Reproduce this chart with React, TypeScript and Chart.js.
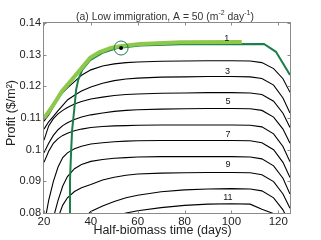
import React, { useEffect, useRef } from "react";
import { Chart, registerables } from "chart.js";

Chart.register(...registerables);

// Shared x grid (half-biomass time, days) for the black contour lines
const X_GRID = [20, 22, 24, 26, 28, 30, 33, 36, 40, 45, 50, 55, 60, 70, 80, 90, 100, 108, 113, 118, 122, 125];

// Contour levels 2..11 (profit, $/m2)
const LEVEL_2 = [0.1090, 0.1110, 0.1135, 0.1160, 0.1180, 0.1195, 0.1215, 0.1235, 0.1252, 0.1264, 0.1271, 0.1275, 0.1277, 0.1279, 0.1280, 0.1281, 0.1281, 0.1280, 0.1275, 0.1256, 0.1224, 0.1181];
const LEVEL_3 = [0.1065, 0.1088, 0.1105, 0.1123, 0.1140, 0.1157, 0.1172, 0.1185, 0.1198, 0.1210, 0.1218, 0.1223, 0.1226, 0.1229, 0.1230, 0.1231, 0.1231, 0.1230, 0.1225, 0.1204, 0.1163, 0.1116];
const LEVEL_4 = [0.1030, 0.1075, 0.1098, 0.1113, 0.1124, 0.1133, 0.1144, 0.1152, 0.1160, 0.1166, 0.1171, 0.1174, 0.1176, 0.1178, 0.1179, 0.1180, 0.1180, 0.1179, 0.1174, 0.1153, 0.1115, 0.1070];
const LEVEL_5 = [0.0990, 0.1020, 0.1045, 0.1063, 0.1076, 0.1085, 0.1095, 0.1103, 0.1110, 0.1116, 0.1121, 0.1124, 0.1126, 0.1128, 0.1129, 0.1130, 0.1130, 0.1129, 0.1124, 0.1103, 0.1065, 0.1020];
const LEVEL_6 = [0.0960, 0.0995, 0.1020, 0.1035, 0.1045, 0.1052, 0.1060, 0.1065, 0.1070, 0.1073, 0.1075, 0.1076, 0.1077, 0.1078, 0.1078, 0.1078, 0.1078, 0.1077, 0.1072, 0.1050, 0.1010, 0.0962];
const LEVEL_7 = [0.0760, 0.0840, 0.0900, 0.0945, 0.0975, 0.0990, 0.1003, 0.1011, 0.1018, 0.1022, 0.1025, 0.1027, 0.1028, 0.1029, 0.1029, 0.1029, 0.1029, 0.1028, 0.1022, 0.1000, 0.0960, 0.0912];
const LEVEL_8 = [0.0700, 0.0740, 0.0785, 0.0840, 0.0885, 0.0915, 0.0940, 0.0953, 0.0963, 0.0969, 0.0973, 0.0975, 0.0977, 0.0978, 0.0978, 0.0978, 0.0978, 0.0977, 0.0971, 0.0949, 0.0910, 0.0860];
const LEVEL_9 = [0.0600, 0.0660, 0.0720, 0.0785, 0.0825, 0.0848, 0.0868, 0.0880, 0.0890, 0.0904, 0.0913, 0.0919, 0.0923, 0.0926, 0.0927, 0.0928, 0.0928, 0.0927, 0.0921, 0.0899, 0.0860, 0.0815];
const LEVEL_10 = [0.0500, 0.0550, 0.0600, 0.0640, 0.0680, 0.0710, 0.0750, 0.0775, 0.0805, 0.0822, 0.0836, 0.0848, 0.0856, 0.0867, 0.0873, 0.0876, 0.0877, 0.0876, 0.0870, 0.0848, 0.0810, 0.0765];
const LEVEL_11 = [0.0400, 0.0450, 0.0500, 0.0550, 0.0600, 0.0640, 0.0680, 0.0710, 0.0740, 0.0770, 0.0788, 0.0800, 0.0807, 0.0817, 0.0824, 0.0828, 0.0829, 0.0828, 0.0812, 0.0798, 0.0780, 0.0750];

// Light green thick path
const LIGHT_X = [20, 22.6, 25.1, 27.7, 31.1, 35.4, 39.7, 44, 48.3, 52.6, 61.1, 78.3, 104.4];
const LIGHT_Y = [0.1100, 0.1126, 0.1154, 0.1185, 0.1214, 0.1252, 0.1290, 0.1309, 0.1321, 0.1327, 0.1334, 0.1339, 0.1340];

// Dark green line (contour 1 / boundary)
const DARK_X = [31.1, 31.1, 31.6, 32.0, 32.9, 33.7, 34.6, 36.3, 39.7, 45.3, 51.3, 61.1, 78.3, 113.9, 119, 125];
const DARK_Y = [0.0800, 0.0905, 0.0999, 0.1062, 0.1126, 0.1189, 0.1220, 0.1252, 0.1283, 0.1307, 0.1321, 0.1329, 0.1333, 0.1334, 0.1309, 0.1236];

// Optimum marker
const OPT_X = [52.9];
const OPT_Y = [0.1321];

// Contour labels
const LABEL_TEXT = ["1", "3", "5", "7", "9", "11"];
const LABEL_X = [98, 98.3, 98.5, 98.5, 98.5, 98.5];
const LABEL_Y = [0.1351, 0.1246, 0.1152, 0.1049, 0.0952, 0.0849];

// Ticks
const X_TICKS = [20, 40, 60, 80, 100, 120];
const Y_TICKS = [0.08, 0.09, 0.1, 0.11, 0.12, 0.13, 0.14];
const Y_TICK_LABELS = ["0.08", "0.09", "0.1", "0.11", "0.12", "0.13", "0.14"];

const FONT = "'Liberation Sans', Arial, Helvetica, sans-serif";
const DARK_GREEN = "#1b7f4a";
const LIGHT_GREEN = "#8cc84a";

const decor = {
  id: "decor",
  afterDatasetsDraw(chart: any) {
    const { ctx, chartArea: a, scales } = chart;
    const xs = scales.x;
    const ys = scales.y;
    ctx.save();
    // contour labels
    ctx.font = `9px ${FONT}`;
    ctx.fillStyle = "#111";
    ctx.textAlign = "center";
    ctx.textBaseline = "middle";
    LABEL_TEXT.forEach((t, i) => {
      ctx.fillText(t, xs.getPixelForValue(LABEL_X[i]), ys.getPixelForValue(LABEL_Y[i]));
    });
    // axes box
    const L = Math.round(a.left) - 0.5;
    const R = Math.round(a.right) + 0.5;
    const T = Math.round(a.top) - 0.5;
    const B = Math.round(a.bottom) + 0.5;
    ctx.strokeStyle = "#8a8a8a";
    ctx.lineWidth = 1;
    ctx.strokeRect(L, T, R - L, B - T);
    // inward ticks on all sides
    ctx.beginPath();
    X_TICKS.forEach((v) => {
      const px = Math.round(xs.getPixelForValue(v)) + 0.5;
      ctx.moveTo(px, B);
      ctx.lineTo(px, B - 3);
      ctx.moveTo(px, T);
      ctx.lineTo(px, T + 3);
    });
    Y_TICKS.forEach((v) => {
      const py = Math.round(ys.getPixelForValue(v)) + 0.5;
      ctx.moveTo(L, py);
      ctx.lineTo(L + 3, py);
      ctx.moveTo(R, py);
      ctx.lineTo(R - 3, py);
    });
    ctx.stroke();

    // title with superscripts
    const big = `10.4px ${FONT}`;
    const small = `7px ${FONT}`;
    const parts: [string, boolean][] = [
      ["(a) Low immigration, A = 50 (m", false],
      ["-2", true],
      [" day", false],
      ["-1", true],
      [")", false],
    ];
    let total = 0;
    parts.forEach(([s, sup]) => {
      ctx.font = sup ? small : big;
      total += ctx.measureText(s).width;
    });
    let cx = 165 - total / 2;
    ctx.fillStyle = "#333";
    ctx.textAlign = "left";
    ctx.textBaseline = "alphabetic";
    parts.forEach(([s, sup]) => {
      ctx.font = sup ? small : big;
      ctx.fillText(s, cx, sup ? 15 : 19.5);
      cx += ctx.measureText(s).width;
    });

    // axis titles
    ctx.fillStyle = "#222";
    ctx.font = `12.5px ${FONT}`;
    ctx.textAlign = "center";
    ctx.textBaseline = "middle";
    ctx.fillText("Half-biomass time (days)", 162.5, 231);
    ctx.save();
    ctx.translate(12, 113);
    ctx.rotate(-Math.PI / 2);
    ctx.fillText("Profit ($/m²)", 0, 0);
    ctx.restore();
    ctx.restore();
  },
};

export default function App() {
  const ref = useRef<HTMLCanvasElement | null>(null);

  useEffect(() => {
    document.body.style.margin = "0";
    const canvas = ref.current;
    if (!canvas) return;
    const contours = [LEVEL_2, LEVEL_3, LEVEL_4, LEVEL_5, LEVEL_6, LEVEL_7, LEVEL_8, LEVEL_9, LEVEL_10, LEVEL_11];
    const datasets: any[] = [];
    datasets.push({
      data: OPT_X.map((x, i) => ({ x, y: OPT_Y[i] })),
      showLine: false,
      pointRadius: 2,
      pointBackgroundColor: "#000",
      pointBorderColor: "#000",
      pointBorderWidth: 0,
      order: -2,
    });
    datasets.push({
      data: OPT_X.map((x, i) => ({ x, y: OPT_Y[i] })),
      showLine: false,
      pointRadius: 7,
      pointBackgroundColor: "rgba(0,0,0,0)",
      pointBorderColor: DARK_GREEN,
      pointBorderWidth: 1,
      order: -1,
    });
    datasets.push({
      data: LIGHT_X.map((x, i) => ({ x, y: LIGHT_Y[i] })),
      borderColor: LIGHT_GREEN,
      borderWidth: 4,
      pointRadius: 0,
      tension: 0,
      borderJoinStyle: "round",
      order: 0,
    });
    datasets.push({
      data: DARK_X.map((x, i) => ({ x, y: DARK_Y[i] })),
      borderColor: DARK_GREEN,
      borderWidth: 2,
      pointRadius: 0,
      tension: 0,
      order: 1,
    });
    contours.forEach((lv) => {
      datasets.push({
        data: X_GRID.map((x, j) => ({ x, y: lv[j] })),
        borderColor: "#000",
        borderWidth: 1.1,
        pointRadius: 0,
        tension: 0,
        order: 2,
      });
    });

    const chart = new Chart(canvas, {
      type: "line",
      data: { datasets },
      options: {
        animation: false,
        responsive: true,
        maintainAspectRatio: false,
        events: [],
        layout: { padding: { top: 23, right: 31, left: 0, bottom: 0 } },
        plugins: { legend: { display: false }, tooltip: { enabled: false }, title: { display: false } },
        scales: {
          x: {
            type: "linear",
            min: 20,
            max: 125,
            grid: { display: false, drawTicks: false },
            border: { display: false },
            afterBuildTicks: (s: any) => {
              s.ticks = X_TICKS.map((v) => ({ value: v }));
            },
            afterFit: (s: any) => {
              s.height = 27;
            },
            ticks: {
              autoSkip: false,
              maxRotation: 0,
              padding: 2,
              color: "#222",
              font: { family: FONT, size: 11.5 },
              callback: (v: any) => String(v),
            },
          },
          y: {
            type: "linear",
            min: 0.08,
            max: 0.14,
            grid: { display: false, drawTicks: false },
            border: { display: false },
            afterBuildTicks: (s: any) => {
              s.ticks = Y_TICKS.map((v) => ({ value: v }));
            },
            afterFit: (s: any) => {
              s.width = 44;
            },
            ticks: {
              autoSkip: false,
              padding: 3,
              color: "#222",
              font: { family: FONT, size: 11 },
              callback: (_v: any, i: number) => Y_TICK_LABELS[i],
            },
          },
        },
      },
      plugins: [decor],
    });
    return () => chart.destroy();
  }, []);

  return (
    <div style={{ width: 321, height: 240, position: "relative" }}>
      <canvas ref={ref} />
    </div>
  );
}
